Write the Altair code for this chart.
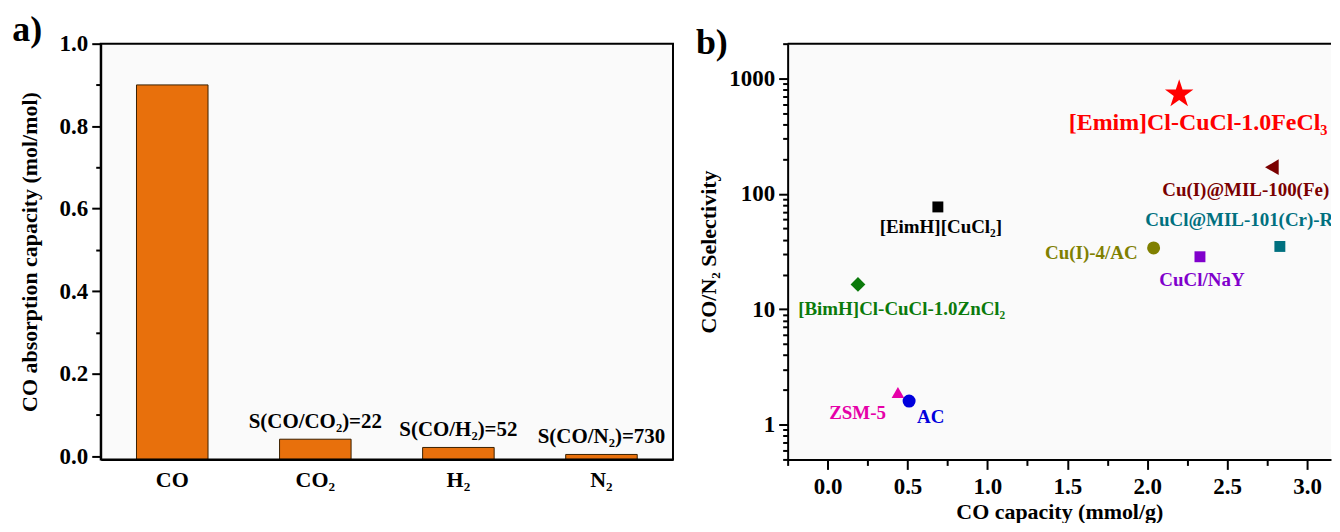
import altair as alt
import pandas as pd

# ---------------- data ----------------
# panel a
gases = ["CO", "CO₂", "H₂", "N₂"]
absorption = [0.90, 0.041, 0.021, 0.004]
selectivity_text = ["", "S(CO/CO₂)=22", "S(CO/H₂)=52", "S(CO/N₂)=730"]
y_ticks_a = [0.0, 0.1, 0.2, 0.3, 0.4, 0.5, 0.6, 0.7, 0.8, 0.9, 1.0]

# panel b
materials = [
    "[Emim]Cl-CuCl-1.0FeCl₃",
    "Cu(I)@MIL-100(Fe)",
    "CuCl@MIL-101(Cr)-R",
    "Cu(I)-4/AC",
    "CuCl/NaY",
    "[EimH][CuCl₂]",
    "[BimH]Cl-CuCl-1.0ZnCl₂",
    "ZSM-5",
    "AC",
]
co_capacity = [2.20, 2.78, 2.83, 2.04, 2.33, 0.69, 0.19, 0.44, 0.51]
co_n2_selectivity = [730, 170, 35, 34, 28.5, 77, 16.4, 1.9, 1.6]
x_ticks_b = [-0.25, 0.0, 0.25, 0.5, 0.75, 1.0, 1.25, 1.5, 1.75, 2.0, 2.25, 2.5, 2.75, 3.0]
y_ticks_b = [0.5, 0.6, 0.7, 0.8, 0.9,
             1, 2, 3, 4, 5, 6, 7, 8, 9,
             10, 20, 30, 40, 50, 60, 70, 80, 90,
             100, 200, 300, 400, 500, 600, 700, 800, 900,
             1000, 2000]
y_major_b = [1, 10, 100, 1000]

# ---------------- styles ----------------
FONT = "Liberation Serif"
ORANGE = "#E8700C"
Y_MIN_A = -0.008
W_A, W_B, H = 574, 545, 417
STAR = ("M0,-1L0.2245,-0.309L0.951,-0.309L0.363,0.118L0.588,0.809L0,0.382"
        "L-0.588,0.809L-0.363,0.118L-0.951,-0.309L-0.2245,-0.309Z")
mat_colors = ["#FF0000", "#7A0000", "#00707F", "#808000", "#8000CC",
              "#000000", "#0B7A0B", "#E600A8", "#0000DD"]
mat_shapes = [STAR, "triangle-left", "square", "circle", "square",
              "square", "diamond", "triangle-up", "circle"]
mat_sizes = [900, 250, 120, 170, 120, 120, 220, 160, 170]
# label placement relative to its point: (align, dx, dy, fontSize)
label_style = {
    "[Emim]Cl-CuCl-1.0FeCl₃": ("center", 19, 29, 24),
    "Cu(I)@MIL-100(Fe)": ("left", -110, 23, 19),
    "CuCl@MIL-101(Cr)-R": ("left", -135, -27, 19),
    "Cu(I)-4/AC": ("right", -16, 5, 19),
    "CuCl/NaY": ("center", 2, 23, 19),
    "[EimH][CuCl₂]": ("center", 3, 20, 19),
    "[BimH]Cl-CuCl-1.0ZnCl₂": ("left", -60, 25, 19),
    "ZSM-5": ("right", -12, 21, 19),
    "AC": ("left", 8, 16, 19),
}

df_a = pd.DataFrame({"gas": gases, "value": absorption, "label": selectivity_text})
df_b = pd.DataFrame({"material": materials, "cap": co_capacity, "sel": co_n2_selectivity})
one_row = pd.DataFrame({"k": [0]})

# ---------------- panel a ----------------
xa = alt.X("gas:N", sort=gases,
           scale=alt.Scale(paddingInner=0.5, paddingOuter=0.25),
           axis=alt.Axis(title=None, labelAngle=0, ticks=False, labelPadding=10,
                         labelFontSize=22))
ya = alt.Y("value:Q",
           scale=alt.Scale(domain=[Y_MIN_A, 1.0], nice=False, zero=False),
           axis=alt.Axis(title="CO absorption capacity (mol/mol)", values=y_ticks_a,
                         labelExpr="round(datum.value*10) % 2 == 0 ? format(datum.value, '.1f') : ''",
                         tickSize={"condition": {"test": "round(datum.value*10) % 2 == 0", "value": 9},
                                   "value": 5},
                         labelPadding=4, titlePadding=18, labelOverlap=False))

bars = alt.Chart(df_a).mark_bar(color=ORANGE, stroke="#3a2000", strokeWidth=1).encode(
    x=xa, y=ya, y2=alt.datum(Y_MIN_A))
bar_text = alt.Chart(df_a).mark_text(font=FONT, fontWeight="bold", fontSize=21,
                                     baseline="alphabetic", dy=-11, color="black").encode(
    x=alt.X("gas:N", sort=gases), y=alt.Y("value:Q"), text="label:N")
frame_a = alt.Chart(one_row).mark_rect(fill="transparent", stroke="black", strokeWidth=2).encode(
    x=alt.value(0), x2=alt.value(W_A), y=alt.value(0), y2=alt.value(H))

left = alt.layer(bars, bar_text, frame_a).properties(
    width=W_A, height=H,
    title=alt.TitleParams("a)", anchor="start", fontSize=36, font=FONT, fontWeight="bold",
                          offset=-16, dx=-6, color="black"))

# ---------------- panel b ----------------
xb = alt.X("cap:Q",
           scale=alt.Scale(domain=[-0.25, 3.15], nice=False, zero=False),
           axis=alt.Axis(title="CO capacity (mmol/g)", values=x_ticks_b,
                         labelExpr="round(datum.value*4) % 2 == 0 ? format(datum.value, '.1f') : ''",
                         tickSize={"condition": {"test": "round(datum.value*4) % 2 == 0", "value": 10},
                                   "value": 6},
                         labelPadding=6, titlePadding=3, labelOverlap=False, labelFlush=False))
yb = alt.Y("sel:Q",
           scale=alt.Scale(type="log", domain=[0.5, 2000], nice=False),
           axis=alt.Axis(title="CO/N₂ Selectivity", values=y_ticks_b,
                         labelExpr="indexof(%s, datum.value) >= 0 ? datum.value : ''" % str(y_major_b),
                         tickSize={"condition": {"test": "indexof(%s, datum.value) >= 0" % str(y_major_b),
                                                 "value": 9},
                                   "value": 5},
                         labelPadding=4, titlePadding=8, labelOverlap=False))

color_b = alt.Color("material:N", scale=alt.Scale(domain=materials, range=mat_colors), legend=None)
points = alt.Chart(df_b).mark_point(filled=True, opacity=1, strokeWidth=0).encode(
    x=xb, y=yb, color=color_b,
    shape=alt.Shape("material:N", scale=alt.Scale(domain=materials, range=mat_shapes), legend=None),
    size=alt.Size("material:N", scale=alt.Scale(type="ordinal", domain=materials, range=mat_sizes),
                  legend=None),
)

labels = []
for m in materials:
    align, dx, dy, fs = label_style[m]
    labels.append(
        alt.Chart(df_b).transform_filter(alt.datum.material == m)
        .mark_text(font=FONT, fontWeight="bold", fontSize=fs, align=align,
                   baseline="middle", dx=dx, dy=dy, clip=True)
        .encode(x="cap:Q", y="sel:Q", text="material:N", color=color_b)
    )
top_b = alt.Chart(one_row).mark_rule(color="black", strokeWidth=2).encode(
    x=alt.value(0), x2=alt.value(W_B), y=alt.value(0))

right = alt.layer(points, *labels, top_b).properties(
    width=W_B, height=H,
    title=alt.TitleParams("b)", anchor="start", fontSize=36, font=FONT, fontWeight="bold",
                          offset=-16, dx=-2, dy=13, color="black"))

chart = alt.hconcat(left, right, spacing=22).properties(
    padding={"left": 4, "top": 3, "right": 0, "bottom": 0}
).configure_view(strokeWidth=0, fill="#fafafa"
).configure_axis(
    domainColor="black", domainWidth=2, tickColor="black", tickWidth=2, grid=False,
    labelFont=FONT, labelFontWeight="bold", labelFontSize=23, labelColor="black",
    titleFont=FONT, titleFontWeight="bold", titleFontSize=22, titleColor="black",
).configure_title(font=FONT)

chart.save("out.html", embed_options={"renderer": "svg", "actions": False})
